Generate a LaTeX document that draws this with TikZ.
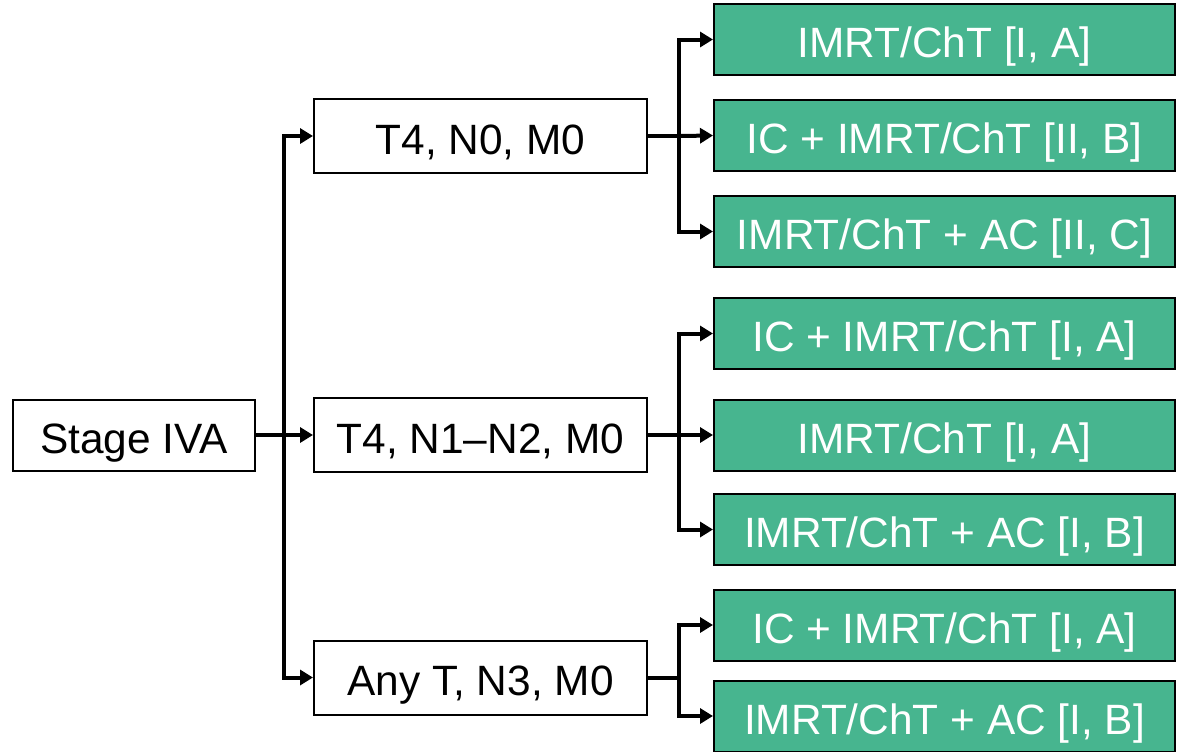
\documentclass[tikz,border=0pt]{standalone}
\usepackage{fontspec}
\setmainfont{Liberation Sans}
\usetikzlibrary{arrows.meta}

\definecolor{treatgreen}{RGB}{71,181,143}

\tikzset{
  boxtext/.style={font=\fontsize{21.2}{24}\selectfont, text height=18pt, text depth=0pt, inner sep=0},
  stagebox/.style={boxtext, draw=black, line width=1pt, fill=white, minimum width=121pt, minimum height=35.5pt},
  tnmbox/.style={boxtext, draw=black, line width=1pt, fill=white, minimum width=166.5pt, minimum height=37pt},
  treatbox/.style={boxtext, draw=black, line width=1pt, fill=treatgreen, text=white, minimum width=230.5pt, minimum height=35.5pt},
  arr/.style={line width=2pt, -{Triangle[length=6.5pt,width=7.5pt]}},
  link/.style={line width=2pt}
}

\begin{document}
\begin{tikzpicture}[x=0.5pt, y=-0.5pt]
\useasboundingbox (0,0) rectangle (1190,751);

% stage and TNM groups
\node[stagebox] (stage) at (134, 435) {Stage IVA};
\node[tnmbox] (tnmA) at (480.5, 136) {T4, N0, M0};
\node[tnmbox] (tnmB) at (480.5, 435) {T4, N1–N2, M0};
\node[tnmbox] (tnmC) at (480.5, 677.5) {Any T, N3, M0};

% treatment options
\node[treatbox] (trA1) at (944.5, 39.5) {IMRT/ChT [I, A]};
\node[treatbox] (trA2) at (944.5, 135.5) {IC + IMRT/ChT [II, B]};
\node[treatbox] (trA3) at (944.5, 231.5) {IMRT/ChT + AC [II, C]};
\node[treatbox] (trB1) at (944.5, 333.5) {IC + IMRT/ChT [I, A]};
\node[treatbox] (trB2) at (944.5, 435) {IMRT/ChT [I, A]};
\node[treatbox] (trB3) at (944.5, 529.5) {IMRT/ChT + AC [I, B]};
\node[treatbox] (trC1) at (944.5, 625) {IC + IMRT/ChT [I, A]};
\node[treatbox] (trC2) at (944.5, 716) {IMRT/ChT + AC [I, B]};

% branch points
\coordinate (split) at (284, 435);
\coordinate (splitA) at (679, 136);
\coordinate (splitB) at (679, 435);
\coordinate (splitC) at (679, 677.5);

\draw[link] (stage.east) -- (split);
\draw[arr] (split) |- (tnmA.west);
\draw[arr] (split) -- (tnmB.west);
\draw[arr] (split) |- (tnmC.west);

\draw[link] (tnmA.east) -- (splitA);
\draw[arr] (splitA) |- (trA1.west);
\draw[arr] (splitA) -- (trA2.west);
\draw[arr] (splitA) |- (trA3.west);

\draw[link] (tnmB.east) -- (splitB);
\draw[arr] (splitB) |- (trB1.west);
\draw[arr] (splitB) -- (trB2.west);
\draw[arr] (splitB) |- (trB3.west);

\draw[link] (tnmC.east) -- (splitC);
\draw[arr] (splitC) |- (trC1.west);
\draw[arr] (splitC) |- (trC2.west);

\end{tikzpicture}
\end{document}
